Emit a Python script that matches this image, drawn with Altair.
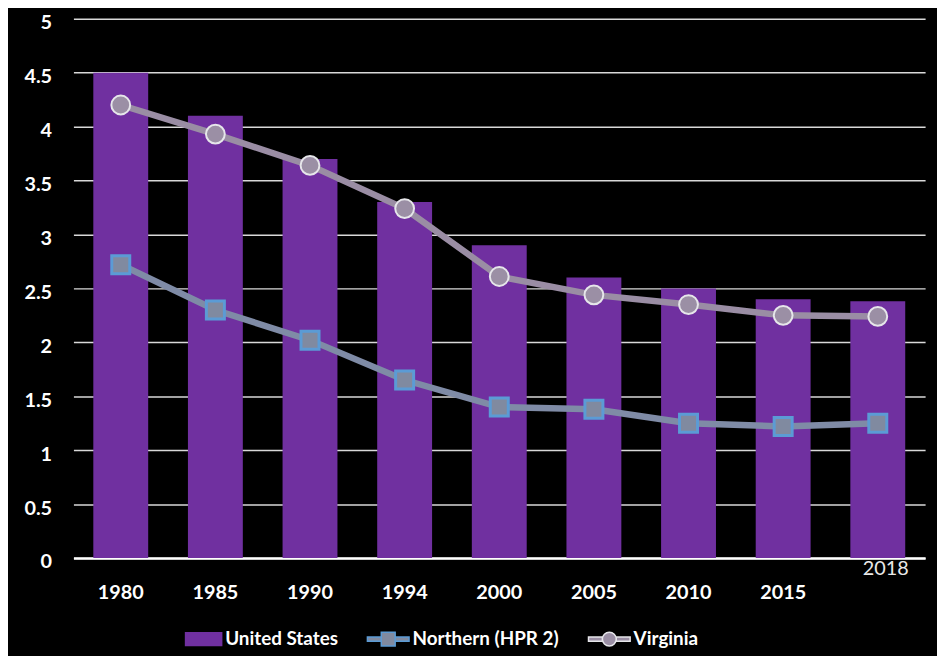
import altair as alt
import pandas as pd

years = ["1980", "1985", "1990", "1994", "2000", "2005", "2010", "2015", "2018"]
us_values = [4.5, 4.1, 3.7, 3.3, 2.9, 2.6, 2.5, 2.4, 2.38]
northern_values = [2.72, 2.30, 2.02, 1.65, 1.40, 1.38, 1.25, 1.22, 1.25]
virginia_values = [4.20, 3.93, 3.64, 3.24, 2.61, 2.44, 2.35, 2.25, 2.24]
series_names = ["United States", "Northern (HPR 2)", "Virginia"]
y_ticks = [0, 0.5, 1, 1.5, 2, 2.5, 3, 3.5, 4, 4.5, 5]

FONT = "Lato"
PURPLE = "#7030a0"
N_LINE = "#7f8ba6"
N_FILL = "#808aa0"
N_STROKE = "#5b9bd5"
V_LINE = "#9a8da4"
V_FILL = "#9b8fa5"
V_STROKE = "#e6e6ea"

bars_df = pd.DataFrame({"year": years, "value": us_values})
lines_df = pd.DataFrame({
    "year": years * 2,
    "value": northern_values + virginia_values,
    "series": [series_names[1]] * len(years) + [series_names[2]] * len(years),
})
legend_df = pd.DataFrame({"series": series_names})

x_enc = alt.X(
    "year:N",
    sort=years,
    scale=alt.Scale(paddingInner=0.42, paddingOuter=0.21),
    axis=alt.Axis(
        title=None, labelAngle=0, ticks=False, grid=False,
        domainColor="#ffffff", domainWidth=2.5,
        labelColor="#ffffff", labelFont=FONT, labelFontSize=20, labelFontWeight="bold",
        labelPadding=25,
        labelExpr="datum.label == '2018' ? '' : datum.label",
    ),
)
y_scale = alt.Scale(domain=[0, 5], nice=False)
y_axis = alt.Axis(
    title=None, values=y_ticks, format=".1~f", domain=False, ticks=False,
    grid=True, gridColor="#d9d9d9", gridWidth=1.5,
    labelColor="#ffffff", labelFont=FONT, labelFontSize=20, labelFontWeight="bold",
    labelPadding=22, labelOffset=4,
)

rect_path = "M-2.2,-0.93H3V0.93H-2.2Z"
sq_path = "M-1,-1H1V1H-1Z M-3,-0.3H-1V0.3H-3Z M1,-0.3H3V0.3H1Z"
circ_path = "M-1,0A1,1 0 1,0 1,0A1,1 0 1,0 -1,0Z M-3,-0.3H-1V0.3H-3Z M1,-0.3H3V0.3H1Z"

legend = alt.Legend(
    title=None, orient="none", direction="horizontal",
    legendX=106, legendY=616,
    symbolSize=196, symbolStrokeWidth=1.5, symbolOffset=13,
    labelOffset=15, columnPadding=26,
    labelColor="#ffffff", labelFont=FONT, labelFontSize=19, labelFontWeight="bold",
)

# legend carrier: drawn first, hidden behind the centre bar
legend_layer = alt.Chart(legend_df).mark_point(filled=True, opacity=1).encode(
    fill=alt.Fill("series:N", sort=series_names, scale=alt.Scale(domain=series_names, range=[PURPLE, N_FILL, V_FILL]), legend=legend),
    stroke=alt.Stroke("series:N", sort=series_names, scale=alt.Scale(domain=series_names, range=[PURPLE, N_STROKE, V_STROKE]), legend=legend),
    shape=alt.Shape("series:N", sort=series_names, scale=alt.Scale(domain=series_names, range=[rect_path, sq_path, circ_path]), legend=legend),
)

bars = alt.Chart(bars_df).mark_bar(color=PURPLE).encode(
    x=x_enc,
    y=alt.Y("value:Q", scale=y_scale, axis=y_axis),
)

n_line = alt.Chart(lines_df).transform_filter(
    alt.datum.series == series_names[1]
).mark_line(color=N_LINE, strokeWidth=6.5).encode(
    x=alt.X("year:N", sort=years), y="value:Q"
)
v_line = alt.Chart(lines_df).transform_filter(
    alt.datum.series == series_names[2]
).mark_line(color=V_LINE, strokeWidth=6.5).encode(
    x=alt.X("year:N", sort=years), y="value:Q"
)

n_pts = alt.Chart(lines_df).transform_filter(
    alt.datum.series == series_names[1]
).mark_point(shape="square", filled=True, fill=N_FILL, stroke=N_STROKE, strokeWidth=3, size=330, opacity=1).encode(
    x=alt.X("year:N", sort=years), y="value:Q"
)
v_pts = alt.Chart(lines_df).transform_filter(
    alt.datum.series == series_names[2]
).mark_point(shape="circle", filled=True, fill=V_FILL, stroke=V_STROKE, strokeWidth=2, size=360, opacity=1).encode(
    x=alt.X("year:N", sort=years), y="value:Q"
)

label_2018 = alt.Chart(pd.DataFrame({"year": ["2018"]})).mark_text(
    baseline="top", dy=1, dx=8, font=FONT, fontSize=20, color="#e8e8e8"
).encode(
    x=alt.X("year:N", sort=years), y=alt.datum(0), text="year:N"
)

chart = alt.layer(legend_layer, bars, n_line, v_line, n_pts, v_pts, label_2018).properties(
    width=859, height=544,
    padding={"left": 66, "top": 8, "right": 12, "bottom": 96},
    autosize=alt.AutoSizeParams(type="none"),
    background="#000000",
).configure_view(stroke=None)

chart.save("out.html", embed_options={"renderer": "svg", "actions": False})
